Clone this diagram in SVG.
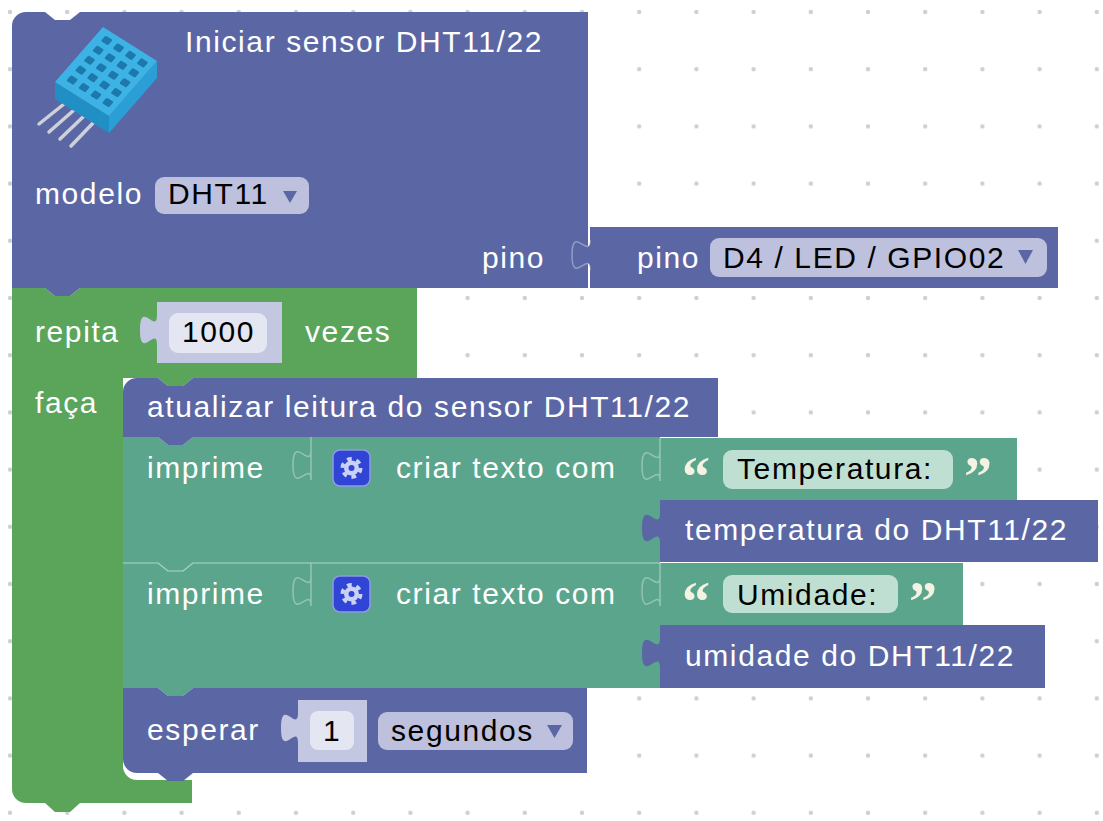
<svg xmlns="http://www.w3.org/2000/svg" width="1103" height="821" viewBox="0 0 1103 821">
  <defs>
    <pattern id="dots" x="-18.6" y="-16.6" width="57.2" height="57.2" patternUnits="userSpaceOnUse">
      <circle cx="28.6" cy="28.6" r="2.2" fill="#cfcfcf"/>
    </pattern>
    <style>
      .blue { fill: #5b67a5; }
      .green { fill: #5ba55b; }
      .teal { fill: #5ba58c; }
      .shadow { fill: #c3c7e1; }
      .numfld { fill: #e4e6f2; }
      .dd { fill: #bdc1de; }
      .txtfld { fill: #bfdfd2; }
      .arrow { fill: #5b67a5; }
      .hl { fill: none; stroke: #ffffff; stroke-opacity: 0.35; stroke-width: 1.5; }
      .lbl { font-family: "Liberation Sans", Arial, sans-serif; font-size: 30px; letter-spacing: 1.6px; fill: #ffffff; }
      .fld { font-family: "Liberation Sans", Arial, sans-serif; font-size: 30px; letter-spacing: 1.6px; fill: #000000; }
      .q { font-family: "Liberation Serif", "Times New Roman", serif; font-weight: bold; font-size: 56px; fill: #f4f2e2; }
      .pin { stroke: #cdd1da; stroke-width: 3.5; stroke-linecap: round; }
    </style>
  </defs>

  <!-- workspace background with grid -->
  <rect width="1103" height="821" fill="#ffffff"/>
  <rect width="1103" height="821" fill="url(#dots)"/>

  <!-- repeat loop -->
  <g id="repeat">
    <path class="green" d="M12,288 H45 L55,296 H70 L80,288 H417 V378 H193 L183,386 H168 L158,378 H123 V766 A14,14 0 0 0 137,780 H192 V803 H80 L70,812 H55 L45,803 H26 A14,14 0 0 1 12,789 Z"/>
    <text class="lbl" x="35" y="342">repita</text>
    <text class="lbl" x="305" y="342">vezes</text>
    <text class="lbl" x="35" y="413">faça</text>
  </g>

  <g id="times">
    <path class="shadow" d="M157,302 H282 V363 H157 V345 c0,-20 -17,16 -17,-15 s17,5 17,-15 Z"/>
    <rect class="numfld" x="169" y="313" width="98" height="40" rx="9"/>
    <text class="fld" x="182" y="342">1000</text>
  </g>

  <!-- sensor setup block -->
  <g id="dht-init">
    <path class="blue" d="M12,288 V26 A14,14 0 0 1 26,12 H45 L55,20 H70 L80,12 H588 V288 H80 L70,296 H55 L45,288 Z"/>
    <g id="dht-icon">
      <line class="pin" x1="64" y1="104" x2="39" y2="124"/>
      <line class="pin" x1="74" y1="110" x2="49" y2="132"/>
      <line class="pin" x1="84" y1="116" x2="60" y2="139"/>
      <line class="pin" x1="94" y1="122" x2="71" y2="146"/>
      <polygon points="55,82 109,116 109,133 55,99" fill="#1f8fc4"/>
      <polygon points="109,116 157,61 157,78 109,133" fill="#2a9fd6"/>
      <polygon points="55,82 103,27 157,61 109,116" fill="#3cb3e4"/>
      <g transform="matrix(0.48,-0.55,0.54,0.34,55,82)" fill="#1d78ab">
        <rect x="10" y="12" width="10" height="13" rx="2"/>
        <rect x="28" y="12" width="10" height="13" rx="2"/>
        <rect x="46" y="12" width="10" height="13" rx="2"/>
        <rect x="64" y="12" width="10" height="13" rx="2"/>
        <rect x="82" y="12" width="10" height="13" rx="2"/>
        <rect x="10" y="34" width="10" height="13" rx="2"/>
        <rect x="28" y="34" width="10" height="13" rx="2"/>
        <rect x="46" y="34" width="10" height="13" rx="2"/>
        <rect x="64" y="34" width="10" height="13" rx="2"/>
        <rect x="82" y="34" width="10" height="13" rx="2"/>
        <rect x="10" y="56" width="10" height="13" rx="2"/>
        <rect x="28" y="56" width="10" height="13" rx="2"/>
        <rect x="46" y="56" width="10" height="13" rx="2"/>
        <rect x="64" y="56" width="10" height="13" rx="2"/>
        <rect x="82" y="56" width="10" height="13" rx="2"/>
        <rect x="10" y="78" width="10" height="13" rx="2"/>
        <rect x="28" y="78" width="10" height="13" rx="2"/>
        <rect x="46" y="78" width="10" height="13" rx="2"/>
        <rect x="64" y="78" width="10" height="13" rx="2"/>
        <rect x="82" y="78" width="10" height="13" rx="2"/>
      </g>
    </g>
    <text class="lbl" x="185" y="52">Iniciar sensor DHT11/22</text>
    <text class="lbl" x="35" y="204">modelo</text>
    <rect class="dd" x="155" y="177" width="154" height="37" rx="9"/>
    <text class="fld" x="168" y="204">DHT11</text>
    <polygon class="arrow" points="283,191 297,191 290,203"/>
    <text class="lbl" x="482" y="268">pino</text>
  </g>

  <g id="pin-select">
    <path class="blue" d="M590,227 H1058 V288 H590 V270 c0,-20 -18,16 -18,-15 s18,5 18,-15 Z"/>
    <path class="hl" d="M590,270 c0,-20 -18,16 -18,-15 s18,5 18,-15"/>
    <text class="lbl" x="637" y="268">pino</text>
    <rect class="dd" x="710" y="238" width="337" height="39" rx="9"/>
    <text class="fld" x="723" y="268">D4 / LED / GPIO02</text>
    <polygon class="arrow" points="1018,250 1033,250 1025.5,264"/>
  </g>

  <!-- loop body -->
  <g id="print-temp">
    <path class="teal" d="M123,437 H158 L168,445 H183 L193,437 H311 V563 H193 L183,571 H168 L158,563 H123 Z"/>
    <text class="lbl" x="147" y="478">imprime</text>
  </g>

  <g id="update">
    <path class="blue" d="M123,437 V392 A14,14 0 0 1 137,378 H158 L168,386 H183 L193,378 H718 V437 H193 L183,445 H168 L158,437 Z"/>
    <text class="lbl" x="147" y="417">atualizar leitura do sensor DHT11/22</text>
  </g>

  <g id="join-temp">
    <path class="teal" d="M311,437 H660 V563 H311 V480 c0,-20 -18,16 -18,-15 s18,5 18,-15 Z"/>
    <path class="hl" d="M311,437 V480 c0,-20 -18,16 -18,-15 s18,5 18,-15"/>
    <rect x="333" y="450" width="37" height="36" rx="7" fill="#3044d6" stroke="#8f9be4" stroke-width="1.5"/>
    <circle cx="351.5" cy="468" r="7.5" fill="#c9d1f6"/>
    <circle cx="351.5" cy="468" r="9" fill="none" stroke="#c9d1f6" stroke-width="4" stroke-dasharray="4.7 4.72"/>
    <circle cx="351.5" cy="468" r="3" fill="#3044d6"/>
    <text class="lbl" x="396" y="478">criar texto com</text>
  </g>

  <g id="text-temp">
    <path class="teal" d="M660,438 H1017 V500 H660 V481 c0,-20 -18,16 -18,-15 s18,5 18,-15 Z"/>
    <path class="hl" d="M660,438 V481 c0,-20 -18,16 -18,-15 s18,5 18,-15"/>
    <text class="q" x="682" y="496">“</text>
    <rect class="txtfld" x="723" y="450" width="230" height="39" rx="9"/>
    <text class="fld" x="737" y="479">Temperatura:</text>
    <text class="q" x="964" y="496">”</text>
  </g>

  <g id="read-temp">
    <path class="blue" d="M660,500 H1098 V562 H660 V543 c0,-20 -18,16 -18,-15 s18,5 18,-15 Z"/>
    <text class="lbl" x="685" y="540">temperatura do DHT11/22</text>
  </g>

  <g id="print-hum">
    <path class="teal" d="M123,563 H158 L168,571 H183 L193,563 H311 V688 H193 L183,696 H168 L158,688 H123 Z"/>
    <path class="hl" d="M123,563 H158 L168,571 H183 L193,563 H311"/>
    <text class="lbl" x="147" y="604">imprime</text>
  </g>

  <g id="join-hum">
    <path class="teal" d="M311,563 H660 V688 H311 V606 c0,-20 -18,16 -18,-15 s18,5 18,-15 Z"/>
    <path class="hl" d="M311,563 H660 M311,563 V606 c0,-20 -18,16 -18,-15 s18,5 18,-15"/>
    <rect x="333" y="576" width="37" height="36" rx="7" fill="#3044d6" stroke="#8f9be4" stroke-width="1.5"/>
    <circle cx="351.5" cy="594" r="7.5" fill="#c9d1f6"/>
    <circle cx="351.5" cy="594" r="9" fill="none" stroke="#c9d1f6" stroke-width="4" stroke-dasharray="4.7 4.72"/>
    <circle cx="351.5" cy="594" r="3" fill="#3044d6"/>
    <text class="lbl" x="396" y="604">criar texto com</text>
  </g>

  <g id="text-hum">
    <path class="teal" d="M660,563 H963 V625 H660 V606 c0,-20 -18,16 -18,-15 s18,5 18,-15 Z"/>
    <path class="hl" d="M660,563 V606 c0,-20 -18,16 -18,-15 s18,5 18,-15"/>
    <text class="q" x="682" y="621">“</text>
    <rect class="txtfld" x="723" y="575" width="175" height="38" rx="9"/>
    <text class="fld" x="737" y="605">Umidade:</text>
    <text class="q" x="909" y="621">”</text>
  </g>

  <g id="read-hum">
    <path class="blue" d="M660,625 H1045 V688 H660 V668 c0,-20 -18,16 -18,-15 s18,5 18,-15 Z"/>
    <text class="lbl" x="685" y="666">umidade do DHT11/22</text>
  </g>

  <g id="wait">
    <path class="blue" d="M123,688 H158 L168,696 H183 L193,688 H587 V773 H193 L183,781 H168 L158,773 H137 A14,14 0 0 1 123,759 Z"/>
    <text class="lbl" x="147" y="740">esperar</text>
    <rect class="dd" x="378" y="712" width="195" height="38" rx="9"/>
    <text class="fld" x="391" y="741">segundos</text>
    <polygon class="arrow" points="547,725 562,725 554.5,738"/>
  </g>

  <g id="wait-amount">
    <path class="shadow" d="M298,700 H367 V762 H298 V743 c0,-20 -17,16 -17,-15 s17,5 17,-15 Z"/>
    <rect class="numfld" x="310" y="711" width="44" height="39" rx="8"/>
    <text class="fld" x="323" y="741">1</text>
  </g>
</svg>
